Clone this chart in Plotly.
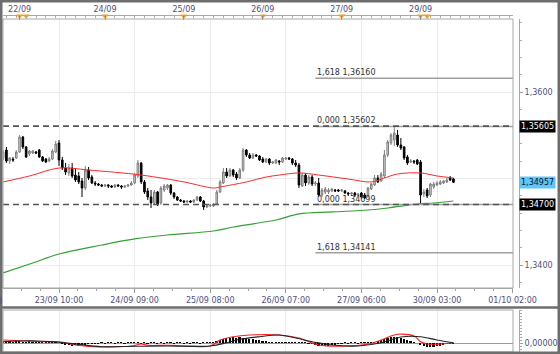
import plotly.graph_objects as go

# ---------------- data ----------------
bars = list(range(138))

open_ = [1.35237, 1.35329, 1.35202, 1.35225, 1.35237, 1.35306, 1.35480, 1.35364, 1.35283, 1.35295,
         1.35306, 1.35329, 1.35249, 1.35225, 1.35202, 1.35225, 1.35306, 1.35410, 1.35214, 1.35121,
         1.35064, 1.35121, 1.35040, 1.35029, 1.34971, 1.34890, 1.35098, 1.35017, 1.34948, 1.34936,
         1.34925, 1.34913, 1.34925, 1.34913, 1.34902, 1.34925, 1.34913, 1.34902, 1.34913, 1.34925,
         1.34948, 1.35029, 1.35179, 1.34960, 1.34856, 1.34786, 1.34717, 1.34844, 1.34717, 1.34867,
         1.34890, 1.34925, 1.34832, 1.34786, 1.34751, 1.34740, 1.34728, 1.34740, 1.34728, 1.34751,
         1.34786, 1.34740, 1.34671, 1.34682, 1.34682, 1.34705, 1.34844, 1.34948, 1.35075, 1.35029,
         1.35098, 1.35052, 1.35006, 1.35098, 1.35329, 1.35272, 1.35237, 1.35272, 1.35260, 1.35225,
         1.35191, 1.35225, 1.35179, 1.35179, 1.35202, 1.35191, 1.35225, 1.35237, 1.35225, 1.35179,
         1.35156, 1.34913, 1.35040, 1.34948, 1.35017, 1.34936, 1.34948, 1.34809, 1.34844, 1.34844,
         1.34856, 1.34867, 1.34867, 1.34856, 1.34856, 1.34832, 1.34821, 1.34832, 1.34809, 1.34832,
         1.34809, 1.34798, 1.34879, 1.34925, 1.35006, 1.34971, 1.35029, 1.35272, 1.35410, 1.35445,
         1.35503, 1.35387, 1.35364, 1.35249, 1.35191, 1.35202, 1.35214, 1.35191, 1.34821, 1.34867,
         1.34809, 1.34902, 1.34925, 1.34936, 1.34948, 1.34960, 1.35006, 1.34994]

high = [1.35329, 1.35364, 1.35249, 1.35249, 1.35329, 1.35503, 1.35491, 1.35376, 1.35329, 1.35329,
        1.35318, 1.35341, 1.35260, 1.35237, 1.35249, 1.35341, 1.35434, 1.35445, 1.35249, 1.35179,
        1.35168, 1.35179, 1.35121, 1.35075, 1.35006, 1.35145, 1.35133, 1.35040, 1.34971, 1.34948,
        1.34936, 1.34936, 1.34936, 1.34925, 1.34936, 1.34936, 1.34925, 1.34925, 1.34936, 1.34971,
        1.35064, 1.35214, 1.35191, 1.34983, 1.34890, 1.34867, 1.34867, 1.34856, 1.34913, 1.34936,
        1.34936, 1.34936, 1.34844, 1.34798, 1.34763, 1.34751, 1.34751, 1.34751, 1.34763, 1.34798,
        1.34798, 1.34751, 1.34694, 1.34705, 1.34717, 1.34867, 1.34983, 1.35121, 1.35121, 1.35121,
        1.35110, 1.35075, 1.35121, 1.35353, 1.35341, 1.35295, 1.35295, 1.35283, 1.35272, 1.35249,
        1.35237, 1.35237, 1.35202, 1.35225, 1.35214, 1.35249, 1.35249, 1.35249, 1.35237, 1.35214,
        1.35179, 1.35064, 1.35064, 1.35040, 1.35040, 1.34971, 1.35006, 1.34890, 1.34902, 1.34890,
        1.34890, 1.34879, 1.34879, 1.34879, 1.34867, 1.34844, 1.34844, 1.34844, 1.34832, 1.34844,
        1.34832, 1.34902, 1.34948, 1.35040, 1.35040, 1.35075, 1.35329, 1.35445, 1.35526, 1.35602,
        1.35561, 1.35468, 1.35376, 1.35272, 1.35225, 1.35214, 1.35225, 1.35214, 1.34879, 1.34890,
        1.34948, 1.34960, 1.34971, 1.34983, 1.34983, 1.35006, 1.35029, 1.35006]

low = [1.35214, 1.35179, 1.35168, 1.35191, 1.35225, 1.35295, 1.35341, 1.35237, 1.35260, 1.35283,
       1.35283, 1.35237, 1.35191, 1.35179, 1.35191, 1.35214, 1.35295, 1.35145, 1.35098, 1.35040,
       1.35029, 1.35006, 1.34960, 1.34936, 1.34786, 1.34867, 1.34983, 1.34936, 1.34913, 1.34913,
       1.34902, 1.34902, 1.34890, 1.34890, 1.34890, 1.34902, 1.34879, 1.34890, 1.34902, 1.34913,
       1.34936, 1.35006, 1.34936, 1.34821, 1.34751, 1.34659, 1.34694, 1.34682, 1.34694, 1.34844,
       1.34867, 1.34809, 1.34763, 1.34740, 1.34728, 1.34717, 1.34717, 1.34717, 1.34717, 1.34740,
       1.34728, 1.34636, 1.34659, 1.34671, 1.34671, 1.34694, 1.34832, 1.34936, 1.35006, 1.35017,
       1.35017, 1.34983, 1.34994, 1.35075, 1.35249, 1.35225, 1.35225, 1.35249, 1.35202, 1.35179,
       1.35179, 1.35156, 1.35168, 1.35168, 1.35156, 1.35179, 1.35214, 1.35214, 1.35156, 1.35133,
       1.34890, 1.34902, 1.34913, 1.34925, 1.34913, 1.34913, 1.34786, 1.34786, 1.34821, 1.34821,
       1.34844, 1.34844, 1.34844, 1.34844, 1.34821, 1.34798, 1.34798, 1.34786, 1.34798, 1.34775,
       1.34763, 1.34775, 1.34867, 1.34913, 1.34948, 1.34960, 1.35006, 1.35249, 1.35387, 1.35376,
       1.35364, 1.35329, 1.35214, 1.35156, 1.35179, 1.35168, 1.35156, 1.34699, 1.34786, 1.34775,
       1.34786, 1.34879, 1.34913, 1.34925, 1.34936, 1.34948, 1.34971, 1.34948]

close = [1.35306, 1.35202, 1.35237, 1.35214, 1.35306, 1.35480, 1.35364, 1.35249, 1.35318, 1.35318,
         1.35295, 1.35249, 1.35202, 1.35191, 1.35225, 1.35318, 1.35399, 1.35214, 1.35121, 1.35075,
         1.35121, 1.35029, 1.34983, 1.34960, 1.34890, 1.35098, 1.35006, 1.34948, 1.34936, 1.34925,
         1.34913, 1.34925, 1.34913, 1.34902, 1.34925, 1.34913, 1.34902, 1.34913, 1.34925, 1.34948,
         1.35040, 1.35179, 1.34960, 1.34844, 1.34786, 1.34717, 1.34844, 1.34694, 1.34890, 1.34913,
         1.34925, 1.34832, 1.34786, 1.34751, 1.34740, 1.34728, 1.34740, 1.34728, 1.34751, 1.34786,
         1.34740, 1.34671, 1.34682, 1.34694, 1.34705, 1.34844, 1.34960, 1.35075, 1.35029, 1.35098,
         1.35040, 1.35006, 1.35098, 1.35329, 1.35272, 1.35237, 1.35272, 1.35260, 1.35214, 1.35191,
         1.35225, 1.35179, 1.35191, 1.35214, 1.35191, 1.35237, 1.35237, 1.35225, 1.35179, 1.35156,
         1.34925, 1.35040, 1.34948, 1.35017, 1.34936, 1.34948, 1.34809, 1.34867, 1.34879, 1.34867,
         1.34879, 1.34856, 1.34856, 1.34867, 1.34832, 1.34821, 1.34832, 1.34809, 1.34821, 1.34786,
         1.34775, 1.34890, 1.34936, 1.35006, 1.34960, 1.35052, 1.35272, 1.35422, 1.35503, 1.35526,
         1.35387, 1.35353, 1.35237, 1.35179, 1.35202, 1.35191, 1.35168, 1.34809, 1.34844, 1.34798,
         1.34936, 1.34936, 1.34948, 1.34960, 1.34971, 1.34983, 1.34983, 1.34957]

# moving averages (read at sample bars)
ma_fast_idx = [0, 8, 17, 26, 42, 55, 64, 66, 74, 80, 84, 90, 96, 105, 112, 116, 120, 127, 132, 137]
ma_fast = [1.34960, 1.35029, 1.35121, 1.35098, 1.35040, 1.34960, 1.34890, 1.34902, 1.34960, 1.35017,
           1.35040, 1.35064, 1.35040, 1.34994, 1.34960, 1.35006, 1.35052, 1.35064, 1.35029, 1.35006]
ma_slow_idx = [0, 9, 17, 30, 40, 50, 64, 70, 83, 90, 100, 111, 117, 126, 131, 137]
ma_slow = [1.33908, 1.34023, 1.34127, 1.34231, 1.34301, 1.34347, 1.34393, 1.34439, 1.34520, 1.34590,
           1.34613, 1.34636, 1.34659, 1.34705, 1.34717, 1.34740]

# oscillator panel
macd_idx = [0, 5, 12, 17, 22, 27, 33, 39, 42, 44, 50, 56, 63, 66, 70, 75, 84, 90, 96, 105,
            111, 115, 118, 120, 125, 127, 129, 133, 137]
macd = [0.00030, 0.00023, 0.00013, 0.00013, -0.00020, -0.00037, -0.00037, -0.00030, -0.00010, -0.00023,
        -0.00023, -0.00030, -0.00030, 0.00030, 0.00063, 0.00080, 0.00080, 0.00050, -0.00020, -0.00030,
        -0.00010, 0.00030, 0.00070, 0.00087, 0.00070, 0.00013, -0.00010, -0.00010, 0.00003]
signal_idx = [0, 9, 17, 22, 30, 40, 50, 63, 68, 72, 78, 84, 94, 100, 108, 115, 121, 127, 132, 137]
signal = [0.00013, 0.00023, 0.00007, -0.00010, -0.00037, -0.00033, -0.00030, -0.00030, 0.00003, 0.00037,
          0.00063, 0.00080, 0.00013, -0.00020, -0.00030, 0.00003, 0.00060, 0.00063, 0.00030, 0.00003]
hist = ([0.0002, 0.0002, 0.0002, 0.0001, 0.0002, 0.0002, 0.0001, 0.0001, 0.0002, 0.0001,
         0.0001, 0.0001, 0.0001, 0.0001, 0.0001, 0.0001, 0.0001]
        + [0.0, -0.0001]
        + [-0.0002, -0.0002, -0.0003, -0.0002, -0.0003, -0.0002, -0.0002, -0.0001]
        + [-0.0001, -0.00005, -0.00005, 0.00005, -0.00005, 0.00005, 0.00005, -0.00005, 0.00005, 0.00005,
           -0.00005, 0.00005, 0.0001, 0.00005, 0.00005, -0.00005, 0.00005, -0.00005, 0.00005, 0.00005,
           -0.00005, 0.00005, -0.00005, 0.00005, 0.00005, -0.00005, 0.00005, 0.00005, -0.00005, 0.00005,
           -0.00005, 0.00005, 0.00005, -0.00005, 0.00005, 0.00005, 0.00005]
        + [0.0001, 0.0002]
        + [0.0003, 0.0004, 0.0005, 0.0005, 0.0006, 0.0005, 0.0006, 0.0005, 0.0005, 0.0004,
           0.0004, 0.0003, 0.0003, 0.0002, 0.0002]
        + [0.0001, 0.0001, 0.0001, 0.00005, 0.0001, 0.0001, 0.00005, 0.0001, 0.00005, 0.0001,
           0.00005, 0.00005, -0.00005]
        + [-0.0001, -0.0002, -0.0003, -0.0003, -0.0003, -0.0003, -0.0002, -0.0002, -0.0001]
        + [-0.00005, 0.00005, -0.00005, 0.00005, 0.00005, -0.00005, 0.00005, 0.00005, 0.00005, 0.0001, 0.0001]
        + [0.0002, 0.0003, 0.0004, 0.0005, 0.0006, 0.0006, 0.0006, 0.0005, 0.0004, 0.0003, 0.0002]
        + [0.0001, 0.0]
        + [-0.0002, -0.0003, -0.0004, -0.0004, -0.0004, -0.0003, -0.0003, -0.0002]
        + [-0.0001, -0.0001, -0.00005])

# horizontal levels and fibonacci projections
hline_levels = [1.35605, 1.34700]
last_price = 1.34957
fib_start = 95
fib_ratios = [1.618, 0.000, 0.000, 1.618]
fib_levels = [1.36160, 1.35602, 1.34699, 1.34141]

# axis labels
bottom_tick_idx = [17, 40, 63, 86, 109, 132, 155]
bottom_tick_text = ["23/09 10:00", "24/09 09:00", "25/09 08:00", "26/09 07:00",
                    "27/09 06:00", "30/09 03:00", "01/10 02:00"]
top_tick_idx = [5, 31, 55, 79, 103, 127]
top_tick_text = ["22/09", "24/09", "25/09", "26/09", "27/09", "29/09"]
event_idx = [5, 7, 31, 55, 79, 103, 127, 129]
price_tick_vals = [1.34, 1.35, 1.36]
price_tick_text = ["1,3400", "", "1,3600"]

# ---------------- layout helpers ----------------
W, H = 560, 354
def fx(p):
    return p / W
def fy(p):
    return 1 - p / H

X_RANGE = [-0.04, 155.12]
Y_RANGE = [1.337341, 1.368439]
OSC_RANGE = [-0.0009, 0.0033]
FONT = "DejaVu Sans"
LABEL_COLOR = "#50507a"
FRAME = "#a8a8a8"

def fmt(v, d=5):
    return f"{v:.{d}f}".replace(".", ",")

fig = go.Figure()

fig.add_trace(go.Candlestick(
    x=bars, open=open_, high=high, low=low, close=close,
    increasing=dict(line=dict(color="#7d7d7d", width=1), fillcolor="#d6d6d6"),
    decreasing=dict(line=dict(color="#000000", width=1), fillcolor="#000000"),
    whiskerwidth=0, showlegend=False, hoverinfo="skip", xaxis="x", yaxis="y"))

fig.add_trace(go.Scatter(x=ma_fast_idx, y=ma_fast, mode="lines",
                         line=dict(color="#ff2b2b", width=1, shape="spline"),
                         showlegend=False, hoverinfo="skip", xaxis="x", yaxis="y"))
fig.add_trace(go.Scatter(x=ma_slow_idx, y=ma_slow, mode="lines",
                         line=dict(color="#35a035", width=1.2, shape="spline"),
                         showlegend=False, hoverinfo="skip", xaxis="x", yaxis="y"))

for r, lv in zip(fib_ratios, fib_levels):
    fig.add_trace(go.Scatter(x=[fib_start, X_RANGE[1]], y=[lv, lv], mode="lines",
                             line=dict(color="#a0a0a0", width=1.5),
                             showlegend=False, hoverinfo="skip", xaxis="x", yaxis="y"))
    fig.add_annotation(x=fib_start, y=lv, xref="x", yref="y", text=f"{fmt(r, 3)} {fmt(lv)}",
                       showarrow=False, xanchor="left", yanchor="bottom", yshift=-1,
                       font=dict(family=FONT, size=8, color="#333333"))

# oscillator
fig.add_trace(go.Bar(x=bars, y=hist, width=0.5, marker=dict(color="#000000", line=dict(width=0)),
                     showlegend=False, hoverinfo="skip", xaxis="x", yaxis="y3"))
fig.add_trace(go.Scatter(x=macd_idx, y=macd, mode="lines",
                         line=dict(color="#ff2020", width=1.1, shape="spline"),
                         showlegend=False, hoverinfo="skip", xaxis="x", yaxis="y3"))
fig.add_trace(go.Scatter(x=signal_idx, y=signal, mode="lines",
                         line=dict(color="#222222", width=1.1, shape="spline"),
                         showlegend=False, hoverinfo="skip", xaxis="x", yaxis="y3"))

# event markers in top strip (on the top date axis)
fig.add_trace(go.Scatter(x=event_idx, y=[0] * len(event_idx), mode="markers",
                         marker=dict(symbol="triangle-down", size=6, color="#f5a020",
                                     line=dict(width=0)),
                         showlegend=False, hoverinfo="skip", xaxis="x2", yaxis="y4",
                         cliponaxis=False))

shapes = []
for lv in hline_levels:
    shapes.append(dict(type="line", xref="x domain", yref="y", x0=0, x1=1, y0=lv, y1=lv,
                       line=dict(color="#555555", width=1.6, dash="6px,4px")))
# frames
shapes.append(dict(type="rect", xref="paper", yref="paper", x0=fx(3), x1=fx(513), y0=fy(288), y1=fy(19),
                   line=dict(color=FRAME, width=1)))
shapes.append(dict(type="rect", xref="paper", yref="paper", x0=fx(3), x1=fx(513), y0=fy(352), y1=fy(310),
                   line=dict(color=FRAME, width=1)))
shapes.append(dict(type="line", xref="paper", yref="paper", x0=0, x1=1, y0=fy(307.5), y1=fy(307.5),
                   line=dict(color="#6e6e6e", width=2.5)))
shapes.append(dict(type="rect", xref="paper", yref="paper", x0=0, x1=1, y0=0, y1=1,
                   line=dict(color="#6e6e6e", width=5)))

# price boxes on right axis
boxes = [(hline_levels[0], "#000000", "#ffffff"), (last_price, "#5cc8f7", "#101040"),
         (hline_levels[1], "#000000", "#ffffff")]
for lv, bg, fc in boxes:
    fig.add_annotation(x=fx(519), y=lv, xref="paper", yref="y", text=fmt(lv), showarrow=False,
                       xanchor="left", yanchor="middle", bgcolor=bg, borderpad=1,
                       font=dict(family=FONT, size=8, color=fc))

# truncated label fragment at the left of the time axis
fig.add_annotation(x=fx(3.5), y=fy(301), xref="paper", yref="paper", text="0", showarrow=False,
                   xanchor="right", yanchor="middle", font=dict(family=FONT, size=8, color=LABEL_COLOR))

tickfont = dict(family=FONT, size=8, color=LABEL_COLOR)

fig.update_layout(
    width=W, height=H, autosize=False, margin=dict(l=0, r=0, t=0, b=0, pad=0),
    paper_bgcolor="#ffffff", plot_bgcolor="#ffffff",
    font=dict(family=FONT, size=8), showlegend=False, bargap=0,
    shapes=shapes,
    xaxis=dict(domain=[fx(3), fx(513)], range=X_RANGE, anchor="y", automargin=False,
               tickmode="array", tickvals=bottom_tick_idx, ticktext=bottom_tick_text,
               ticks="outside", ticklen=4, tickcolor="#999999", tickfont=tickfont,
               showline=True, linecolor=FRAME, showgrid=True, gridcolor="#ececec",
               zeroline=False, rangeslider=dict(visible=False), fixedrange=True,
               minor=dict(tick0=17, dtick=5.75, ticks="outside", ticklen=2, tickcolor="#aaaaaa",
                          showgrid=False)),
    xaxis2=dict(domain=[fx(3), fx(513)], range=X_RANGE, overlaying="x", side="top",
                anchor="free", position=fy(15), automargin=False,
                tickmode="array", tickvals=top_tick_idx, ticktext=top_tick_text,
                ticks="inside", ticklen=4, tickcolor="#888888", tickfont=tickfont,
                showline=True, linecolor=FRAME, showgrid=False, zeroline=False, fixedrange=True,
                minor=dict(tick0=1, dtick=3, ticks="inside", ticklen=2, tickcolor="#aaaaaa",
                           showgrid=False)),
    yaxis=dict(domain=[fy(288), fy(19)], range=Y_RANGE, side="right", anchor="free",
               position=fx(519), automargin=False,
               tickmode="array", tickvals=price_tick_vals, ticktext=price_tick_text,
               ticks="outside", ticklen=3, tickcolor="#999999", tickfont=tickfont,
               showline=True, linecolor=FRAME, showgrid=True, gridcolor="#ececec",
               zeroline=False, fixedrange=True,
               minor=dict(dtick=0.002, ticks="outside", ticklen=2, tickcolor="#aaaaaa", showgrid=False)),
    yaxis3=dict(domain=[fy(352), fy(310)], range=OSC_RANGE, side="right", anchor="free",
                position=fx(519), automargin=False,
                tickmode="array", tickvals=[0], ticktext=["0,00000"],
                ticks="outside", ticklen=3, tickcolor="#999999", tickfont=tickfont,
                showline=True, linecolor=FRAME, showgrid=False,
                zeroline=True, zerolinecolor="#9a9a9a", zerolinewidth=1, fixedrange=True,
                minor=dict(dtick=0.0003, ticks="outside", ticklen=2, tickcolor="#aaaaaa", showgrid=False)),
    yaxis4=dict(domain=[fy(19), fy(13)], range=[-1, 1], anchor="x2", visible=False,
                fixedrange=True, automargin=False),
)

fig.write_html("out.html", config={"responsive": False, "displayModeBar": False})
